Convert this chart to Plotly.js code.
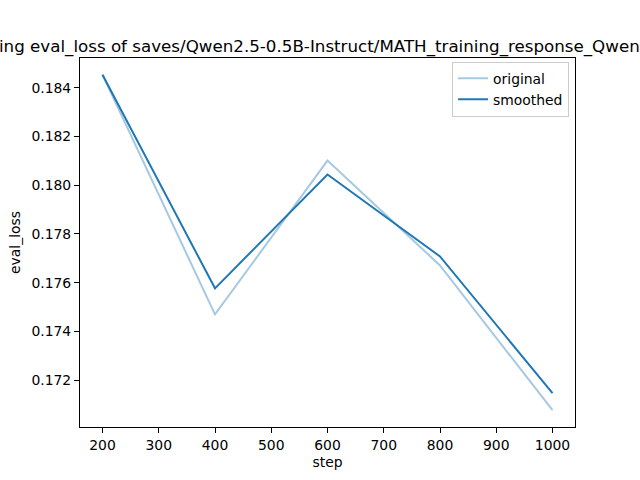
<!DOCTYPE html>
<html>
<head>
<meta charset="utf-8">
<script src="https://cdn.plot.ly/plotly-3.0.1.min.js"></script>
<style>
  body { margin: 0; }
  #plot { width: 640px; height: 480px; }
</style>
</head>
<body>
<div id="plot"></div>
<script>
var steps = [200, 400, 600, 800, 1000];
var original = [0.18453, 0.17470, 0.18101, 0.17671, 0.17077];
var smoothed = [0.18453, 0.17577, 0.18044, 0.17708, 0.17147];
var yTicks = [0.172, 0.174, 0.176, 0.178, 0.180, 0.182, 0.184];
var xTicks = [200, 300, 400, 500, 600, 700, 800, 900, 1000];

var titleText = "Smoothing eval_loss of saves/Qwen2.5-0.5B-Instruct/MATH_training_response_Qwen2.5-32B";

// matplotlib style 5% padding around the data
var allY = original.concat(smoothed);
var yMin = Math.min.apply(null, allY), yMax = Math.max.apply(null, allY);
var yPad = (yMax - yMin) * 0.05;
var xPad = (steps[steps.length - 1] - steps[0]) * 0.05;

var data = [
  {
    x: steps, y: original, name: "original",
    mode: "lines", type: "scatter",
    line: {color: "rgba(31,119,180,0.4)", width: 2}
  },
  {
    x: steps, y: smoothed, name: "smoothed",
    mode: "lines", type: "scatter",
    line: {color: "#1f77b4", width: 2}
  }
];

var axisStyle = {
  showgrid: false, zeroline: false,
  showline: true, mirror: true, linecolor: "black", linewidth: 1,
  ticks: "outside", ticklen: 5, tickwidth: 1, tickcolor: "black",
  tickfont: {family: "DejaVu Sans", size: 13.9, color: "black"}
};

var layout = {
  width: 640, height: 480,
  margin: {l: 80, r: 65, t: 58, b: 53},
  paper_bgcolor: "white", plot_bgcolor: "white",
  font: {family: "DejaVu Sans", color: "black"},
  title: {
    text: titleText,
    font: {family: "DejaVu Sans", size: 16.7, color: "black"},
    x: 310 / 640, xref: "paper", xanchor: "center",
    y: 1 - 46 / 480, yanchor: "middle"
  },
  xaxis: Object.assign({}, axisStyle, {
    range: [steps[0] - xPad, steps[steps.length - 1] + xPad],
    tickvals: xTicks,
    title: {text: "step", font: {family: "DejaVu Sans", size: 13.9}, standoff: 5}
  }),
  yaxis: Object.assign({}, axisStyle, {
    range: [yMin - yPad, yMax + yPad],
    tickvals: yTicks,
    tickformat: ".3f",
    title: {text: "eval_loss", font: {family: "DejaVu Sans", size: 13.9}, standoff: 7}
  }),
  showlegend: true,
  legend: {
    x: 0.988, y: 0.99, xanchor: "right", yanchor: "top",
    bgcolor: "rgba(255,255,255,0.8)", bordercolor: "#cccccc", borderwidth: 1,
    font: {family: "DejaVu Sans", size: 13.9, color: "black"},
    itemwidth: 30, tracegroupgap: 0
  }
};

Plotly.newPlot("plot", data, layout, {displayModeBar: false});
</script>
</body>
</html>
